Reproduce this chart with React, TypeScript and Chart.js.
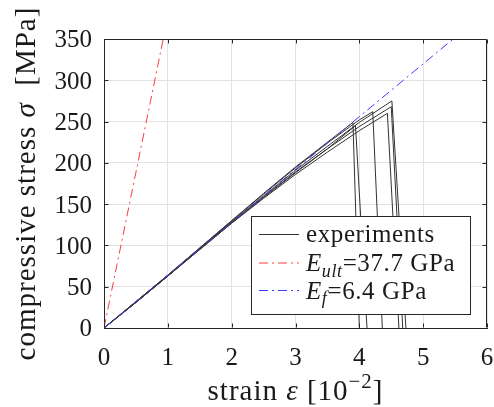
import React, { useEffect, useRef } from "react";
import { Chart, registerables } from "chart.js";

Chart.register(...registerables);

// ---------- data ----------
const xTickValues = [0, 1, 2, 3, 4, 5, 6];
const yTickValues = [0, 50, 100, 150, 200, 250, 300, 350];

const exp1Strain = [0, 0.5, 1.0, 1.5, 2.0, 2.5, 3.0, 3.5, 3.9, 4.0];
const exp1Stress = [0, 32, 64, 97, 130, 163, 195, 225, 249, 0];
const exp2Strain = [0, 0.5, 1.0, 1.5, 2.0, 2.5, 3.0, 3.5, 3.94, 4.12];
const exp2Stress = [0, 31, 63, 95, 127, 158, 188, 217, 245, 0];
const exp3Strain = [0, 0.5, 1.0, 1.5, 2.0, 2.5, 3.0, 3.5, 4.0, 4.21, 4.36];
const exp3Stress = [0, 32, 64, 97, 130, 162, 194, 224, 252, 262, 0];
const exp4Strain = [0, 0.5, 1.0, 1.5, 2.0, 2.5, 3.0, 3.5, 4.0, 4.44, 4.62];
const exp4Stress = [0, 31, 63, 95, 127, 157, 186, 213, 239, 260, 0];
const exp5Strain = [0, 0.5, 1.0, 1.5, 2.0, 2.5, 3.0, 3.5, 4.0, 4.51, 4.73];
const exp5Stress = [0, 31, 63, 96, 129, 160, 191, 220, 249, 275, 0];
const exp6Strain = [0, 0.5, 1.0, 1.5, 2.0, 2.5, 3.0, 3.5, 4.0, 4.5, 4.68];
const exp6Stress = [0, 31, 63, 96, 128, 159, 189, 217, 244, 268, 0];

const eUltStrain = [0, 0.928];
const eUltStress = [0, 350];
const eFStrain = [0, 5.47];
const eFStress = [0, 350];

const experiments = [
  [exp1Strain, exp1Stress],
  [exp2Strain, exp2Stress],
  [exp3Strain, exp3Stress],
  [exp4Strain, exp4Stress],
  [exp5Strain, exp5Stress],
  [exp6Strain, exp6Stress],
];

// ---------- styles ----------
const FONT = "'Liberation Serif', 'Times New Roman', serif";
const AXIS_COLOR = "#262626";
const GRID_COLOR = "#e2e2e2";
const EXP_COLOR = "#333333";
const TEXT_COLOR = "#1a1a1a";
const RED = "rgb(255,60,60)";
const BLUE = "rgb(60,60,255)";
const DASHDOT = [9, 4, 2, 4];
const TICK_SIZE = 25;

type Seg = { t: string; it?: boolean; sub?: boolean; sup?: boolean };

const xTitle: Seg[] = [
  { t: "strain " },
  { t: "ε", it: true },
  { t: " [10" },
  { t: "−2", sup: true },
  { t: "]" },
];
const yTitle: Seg[] = [
  { t: "compressive stress " },
  { t: "σ", it: true },
  { t: "  [MPa]" },
];

const legendEntries: { segs: Seg[]; color: string; dash: number[] }[] = [
  { segs: [{ t: "experiments" }], color: EXP_COLOR, dash: [] },
  {
    segs: [{ t: "E", it: true }, { t: "ult", it: true, sub: true }, { t: "=37.7 GPa" }],
    color: RED,
    dash: DASHDOT,
  },
  {
    segs: [{ t: "E", it: true }, { t: "f", it: true, sub: true }, { t: "=6.4 GPa" }],
    color: BLUE,
    dash: DASHDOT,
  },
];

function segFont(s: Seg, size: number) {
  const sz = s.sub || s.sup ? size * 0.72 : size;
  return `${s.it ? "italic " : ""}${sz}px ${FONT}`;
}

// manual letter spacing (drawn char by char)
function richWidth(ctx: any, segs: Seg[], size: number, sp: number) {
  let w = 0;
  for (const s of segs) {
    ctx.font = segFont(s, size);
    for (const ch of s.t) w += ctx.measureText(ch).width + sp;
  }
  return w;
}

function drawRich(ctx: any, segs: Seg[], x: number, y: number, size: number, sp: number) {
  let cx = x;
  for (const s of segs) {
    ctx.font = segFont(s, size);
    const dy = s.sub ? size * 0.22 : s.sup ? -size * 0.42 : 0;
    for (const ch of s.t) {
      ctx.fillText(ch, cx, y + dy);
      cx += ctx.measureText(ch).width + sp;
    }
  }
}

const decorPlugin = {
  id: "decor",
  afterDraw(chart: any) {
    const ctx = chart.ctx;
    const a = chart.chartArea;
    const xs = chart.scales.x;
    const ys = chart.scales.y;
    ctx.save();

    // box (top & right) and inner ticks
    ctx.strokeStyle = AXIS_COLOR;
    ctx.lineWidth = 1;
    ctx.setLineDash([]);
    const L = Math.round(a.left) + 0.5;
    const R = Math.round(a.right) - 0.5;
    const T = Math.round(a.top) + 0.5;
    const B = Math.round(a.bottom) - 0.5;
    ctx.beginPath();
    ctx.moveTo(L, T);
    ctx.lineTo(R, T);
    ctx.lineTo(R, B);
    ctx.stroke();
    const tl = 4;
    ctx.beginPath();
    for (const t of xs.ticks) {
      const px = Math.round(xs.getPixelForValue(t.value)) + 0.5;
      ctx.moveTo(px, B);
      ctx.lineTo(px, B - tl);
      ctx.moveTo(px, T);
      ctx.lineTo(px, T + tl);
    }
    for (const t of ys.ticks) {
      const py = Math.round(ys.getPixelForValue(t.value)) + 0.5;
      ctx.moveTo(L, py);
      ctx.lineTo(L + tl, py);
      ctx.moveTo(R, py);
      ctx.lineTo(R - tl, py);
    }
    ctx.stroke();

    // tick labels (from the scales' own ticks)
    ctx.fillStyle = TEXT_COLOR;
    ctx.textBaseline = "alphabetic";
    ctx.font = `${TICK_SIZE}px ${FONT}`;
    const digitHalf = TICK_SIZE * 0.338;
    ctx.textAlign = "center";
    for (const t of xs.ticks) {
      const px = xs.getPixelForValue(t.value);
      ctx.fillText(String(t.label ?? t.value), px, 365);
    }
    ctx.textAlign = "right";
    for (const t of ys.ticks) {
      const py = ys.getPixelForValue(t.value);
      ctx.fillText(String(t.label ?? t.value), 92, py + digitHalf);
    }

    // axis titles
    ctx.textAlign = "left";
    const tsize = 29;
    const xw = richWidth(ctx, xTitle, tsize, 1);
    drawRich(ctx, xTitle, (a.left + a.right) / 2 - xw / 2, 400, tsize, 1);
    const yw = richWidth(ctx, yTitle, tsize, 1);
    ctx.save();
    ctx.translate(35, (a.top + a.bottom) / 2);
    ctx.rotate(-Math.PI / 2);
    drawRich(ctx, yTitle, -yw / 2, 0, tsize, 1);
    ctx.restore();

    // legend
    const bx = 251.5, by = 216.5, bw = 219, bh = 98;
    ctx.fillStyle = "#ffffff";
    ctx.fillRect(bx, by, bw, bh);
    ctx.strokeStyle = AXIS_COLOR;
    ctx.lineWidth = 1;
    ctx.strokeRect(bx, by, bw, bh);
    const baselines = [242, 271, 298.5];
    const lineYs = [234.5, 263, 290.5];
    legendEntries.forEach((e, i) => {
      ctx.strokeStyle = e.color;
      ctx.setLineDash(e.dash);
      ctx.beginPath();
      ctx.moveTo(259, lineYs[i]);
      ctx.lineTo(299, lineYs[i]);
      ctx.stroke();
      ctx.setLineDash([]);
      ctx.fillStyle = TEXT_COLOR;
      drawRich(ctx, e.segs, 306, baselines[i], 25, 0.6);
    });
    ctx.restore();
  },
};

function toPoints(xs: number[], ys: number[]) {
  return xs.map((x, i) => ({ x, y: ys[i] }));
}

export default function App() {
  const ref = useRef<HTMLCanvasElement | null>(null);

  useEffect(() => {
    if (!ref.current) return;
    const datasets: any[] = experiments.map(([sx, sy], i) => ({
      label: i === 0 ? "experiments" : `experiment ${i + 1}`,
      data: toPoints(sx, sy),
      borderColor: EXP_COLOR,
      borderWidth: 1,
      pointRadius: 0,
      fill: false,
      order: 2,
    }));
    datasets.push({
      label: "E_ult=37.7 GPa",
      data: toPoints(eUltStrain, eUltStress),
      borderColor: RED,
      borderWidth: 1,
      borderDash: DASHDOT,
      pointRadius: 0,
      fill: false,
      order: 0,
    });
    datasets.push({
      label: "E_f=6.4 GPa",
      data: toPoints(eFStrain, eFStress),
      borderColor: BLUE,
      borderWidth: 1,
      borderDash: DASHDOT,
      pointRadius: 0,
      fill: false,
      order: 0,
    });

    const chart = new Chart(ref.current, {
      type: "line",
      data: { datasets },
      options: {
        animation: false,
        responsive: false,
        devicePixelRatio: 1,
        layout: { padding: { top: 39, right: 7, left: 0, bottom: 0 } },
        plugins: {
          legend: { display: false },
          tooltip: { enabled: false },
        },
        scales: {
          x: {
            type: "linear",
            min: 0,
            max: 6,
            afterBuildTicks: (s: any) => {
              s.ticks = xTickValues.map((v) => ({ value: v }));
            },
            afterFit: (s: any) => {
              s.height = 79;
            },
            ticks: {
              font: { family: FONT, size: TICK_SIZE },
              color: "rgba(0,0,0,0)",
              padding: 0,
              maxRotation: 0,
              autoSkip: false,
            },
            grid: { color: GRID_COLOR, drawTicks: true, tickLength: 14, tickColor: "rgba(0,0,0,0)" },
            border: { color: AXIS_COLOR, width: 1 },
          },
          y: {
            type: "linear",
            min: 0,
            max: 350,
            afterBuildTicks: (s: any) => {
              s.ticks = yTickValues.map((v) => ({ value: v }));
            },
            afterFit: (s: any) => {
              s.width = 104;
            },
            ticks: {
              font: { family: FONT, size: TICK_SIZE },
              color: "rgba(0,0,0,0)",
              padding: 12,
              autoSkip: false,
            },
            grid: { color: GRID_COLOR, drawTicks: false },
            border: { color: AXIS_COLOR, width: 1 },
          },
        },
      },
      plugins: [decorPlugin],
    } as any);
    return () => chart.destroy();
  }, []);

  return (
    <div style={{ position: "absolute", left: 0, top: 0, width: 494, height: 407, background: "#fff" }}>
      <canvas ref={ref} width={494} height={407} style={{ display: "block" }} />
    </div>
  );
}
